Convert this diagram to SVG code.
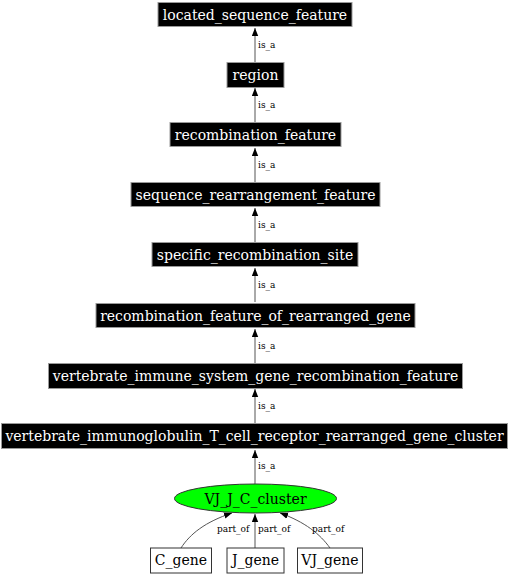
<svg xmlns="http://www.w3.org/2000/svg" width="510" height="576" viewBox="0 0 510 576">
<defs>
<marker id="arr" viewBox="0 0 10 8" refX="10" refY="4" markerWidth="8" markerHeight="7" markerUnits="userSpaceOnUse" orient="auto">
<path d="M0,0 L10,4 L0,8 z" fill="#000"/>
</marker>
</defs>
<style>
.box rect{fill:#000;stroke:#999;stroke-width:1}
.box text{fill:#fff;font-family:"DejaVu Serif",serif;font-size:14px;text-anchor:middle}
.wbox rect{fill:#fff;stroke:#333;stroke-width:1}
.wbox text{fill:#000;font-family:"DejaVu Serif",serif;font-size:14px;text-anchor:middle}
.edges path{fill:none;stroke:#555;stroke-width:1;marker-end:url(#arr)}
.edges text{font-family:"DejaVu Serif",serif;font-size:9px;fill:#000}
</style>
<rect width="510" height="576" fill="#fff"/>
<g class="edges" id="edges">
<path d="M255,62 L255,28"/><text x="258" y="48">is_a</text>
<path d="M255,122 L255,88"/><text x="258" y="108">is_a</text>
<path d="M255,182 L255,148"/><text x="258" y="168">is_a</text>
<path d="M255,242 L255,208"/><text x="258" y="228">is_a</text>
<path d="M255,302 L255,268"/><text x="258" y="288">is_a</text>
<path d="M255,363 L255,329"/><text x="258" y="349">is_a</text>
<path d="M255,423 L255,389"/><text x="258" y="409">is_a</text>
<path d="M255,484 L255,450"/><text x="258" y="469">is_a</text>
<path d="M181,548 C190,534 205,522 232,513"/><text x="217" y="532">part_of</text>
<path d="M255,548 L255,514"/><text x="258" y="532">part_of</text>
<path d="M330,548 C320,534 305,522 280,513"/><text x="312" y="532">part_of</text>
</g>
<g class="box" id="located_sequence_feature"><rect x="158" y="2.5" width="194" height="24"/><text x="255" y="19.5">located_sequence_feature</text></g>
<g class="box" id="region"><rect x="227" y="62.5" width="57" height="25"/><text x="255.5" y="79.5">region</text></g>
<g class="box" id="recombination_feature"><rect x="170" y="122.5" width="171" height="24"/><text x="255.5" y="139.5">recombination_feature</text></g>
<g class="box" id="sequence_rearrangement_feature"><rect x="131" y="182.5" width="249" height="24"/><text x="255.5" y="199.5">sequence_rearrangement_feature</text></g>
<g class="box" id="specific_recombination_site"><rect x="152" y="242.5" width="206" height="24"/><text x="255" y="259.5">specific_recombination_site</text></g>
<g class="box" id="recombination_feature_of_rearranged_gene"><rect x="96" y="303.5" width="319" height="24"/><text x="255.5" y="320.5">recombination_feature_of_rearranged_gene</text></g>
<g class="box" id="vertebrate_immune_system_gene_recombination_feature"><rect x="48.5" y="363.5" width="414" height="25"/><text x="255.5" y="380.5">vertebrate_immune_system_gene_recombination_feature</text></g>
<g class="box" id="vertebrate_immunoglobulin_T_cell_receptor_rearranged_gene_cluster"><rect x="1.5" y="423.5" width="506" height="25"/><text x="254.5" y="440.5">vertebrate_immunoglobulin_T_cell_receptor_rearranged_gene_cluster</text></g>
<g id="VJ_J_C_cluster"><ellipse cx="255.5" cy="498.5" rx="81" ry="14.5" fill="#00ff00" stroke="#333"/><text x="255.5" y="503.5" font-family="DejaVu Serif,serif" font-size="14" text-anchor="middle">VJ_J_C_cluster</text></g>
<g class="wbox" id="C_gene"><rect x="150.5" y="548" width="61" height="25"/><text x="181" y="565">C_gene</text></g>
<g class="wbox" id="J_gene"><rect x="227" y="548" width="57" height="25"/><text x="255.5" y="565">J_gene</text></g>
<g class="wbox" id="VJ_gene"><rect x="297.5" y="548" width="65" height="25"/><text x="330" y="565">VJ_gene</text></g>
</svg>
